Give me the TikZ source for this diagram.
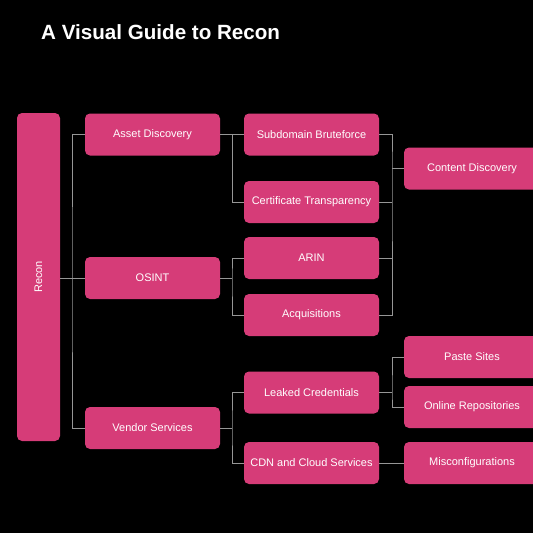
\documentclass[tikz,border=0pt]{standalone}
\usepackage{fontspec}
\setmainfont{Liberation Sans}
\definecolor{boxpink}{RGB}{214,60,120}
\definecolor{linegray}{RGB}{150,150,150}
\begin{document}
\begin{tikzpicture}[x=1pt,y=-1pt,
  box/.style={fill=boxpink, rounded corners=5pt, inner sep=0pt, minimum width=135pt, minimum height=42pt, text=white, font=\fontsize{11}{13}\selectfont},
  conn/.style={draw=linegray, line width=1pt}]
\useasboundingbox (0,0) rectangle (533,533);
\clip (0,0) rectangle (533,533);
\fill[black] (0,0) rectangle (533,533);
\node[anchor=base west, text=white, font=\fontsize{20.6}{24}\selectfont\bfseries, inner sep=0pt] (title) at (41,39) {A Visual Guide to Recon};
% Root
\node[box, minimum width=43pt, minimum height=328pt] (recon) at (38.5,277) {};
\node[text=white, rotate=90, font=\fontsize{11}{13}\selectfont] (recontext) at (38.5,277) {Recon};
% Level 1
\node[box] (ad) at (152.5,134.5) {Asset Discovery};
\node[box] (osint) at (152.5,278) {OSINT};
\node[box] (vs) at (152.5,428) {Vendor Services};
% Level 2
\node[box] (sub) at (311.5,134.5) {Subdomain Bruteforce};
\node[box] (cert) at (311.5,202) {\raisebox{2pt}{Certificate Transparency}};
\node[box] (arin) at (311.5,258) {ARIN};
\node[box] (acq) at (311.5,315) {Acquisitions};
\node[box] (leak) at (311.5,392.5) {Leaked Credentials};
\node[box] (cdn) at (311.5,463) {CDN and Cloud Services};
% Level 3
\node[box, minimum width=136pt] (content) at (472,168.5) {Content Discovery};
\node[box, minimum width=136pt] (paste) at (472,357) {Paste Sites};
\node[box, minimum width=136pt] (repo) at (472,407) {Online Repositories};
\node[box, minimum width=136pt] (misc) at (472,463) {Misconfigurations};
% Junctions
\coordinate (j1) at (72,278);
\coordinate (j2) at (232,134.5);
\coordinate (j3) at (232,278);
\coordinate (j4) at (232,428);
\coordinate (j5) at (392,168.5);
\coordinate (j6) at (392,392.5);
% Connectors
\draw[conn] (recon.east |- osint.west) -- (osint.west);
\draw[conn] (ad.west) -| (j1) |- (vs.west);
\draw[conn] (ad.east) -- (sub.west);
\draw[conn] (j2) |- (cert.west);
\draw[conn] (osint.east) -- (j3);
\draw[conn] (arin.west) -| (j3) |- (acq.west);
\draw[conn] (vs.east) -- (j4);
\draw[conn] (leak.west) -| (j4) |- (cdn.west);
\draw[conn] (sub.east) -| (j5) |- (acq.east);
\draw[conn] (cert.east) -- (cert.east -| j5);
\draw[conn] (arin.east) -- (arin.east -| j5);
\draw[conn] (j5) -- (content.west);
\draw[conn] (leak.east) -- (j6);
\draw[conn] (paste.west) -| (j6) |- (repo.west);
\draw[conn] (cdn.east) -- (misc.west);
\end{tikzpicture}
\end{document}
